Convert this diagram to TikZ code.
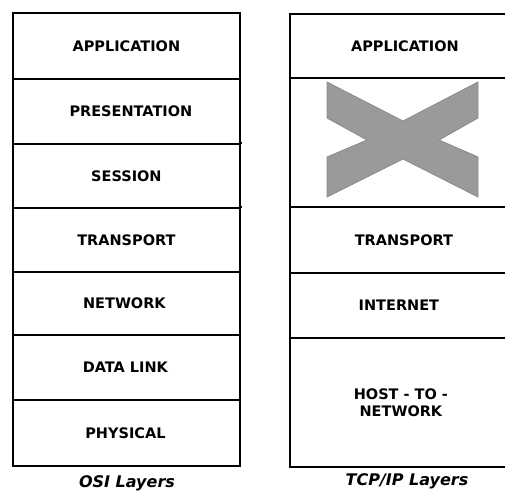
\documentclass[tikz,border=0pt]{standalone}
\usepackage{fontspec}
\setmainfont{DejaVu Sans}
\definecolor{xgray}{HTML}{9A9A9A}
\definecolor{xedge}{HTML}{8A8A8A}
\tikzset{
  x=1pt, y=-1pt,
  cell/.style={draw=black, line width=1.8pt, anchor=north west, inner sep=0pt,
    font=\fontsize{14.5}{17}\selectfont\bfseries, align=center},
  caption/.style={font=\fontsize{16}{19}\selectfont\bfseries\itshape, inner sep=0pt}
}
\begin{document}
\begin{tikzpicture}
\clip (0,0) rectangle (505,491);
\fill[white] (0,0) rectangle (505,491);
% OSI column
\node[cell, minimum width=227pt, minimum height=66pt] (app) at (12,12) {APPLICATION};
\node[cell, minimum width=227pt, minimum height=65pt] (pres) at (12,78) {\hspace*{9pt}PRESENTATION};
\node[cell, minimum width=227pt, minimum height=64pt] (sess) at (12,143) {SESSION};
\node[cell, minimum width=227pt, minimum height=64pt] (trans) at (12,207) {TRANSPORT};
\node[cell, minimum width=227pt, minimum height=63pt] (net) at (12,271) {\hspace*{-4pt}NETWORK};
\node[cell, minimum width=227pt, minimum height=65pt] (dl) at (12,334) {\hspace*{-2pt}DATA LINK};
\node[cell, minimum width=227pt, minimum height=66pt] (phys) at (12,399) {\hspace*{-2pt}PHYSICAL};
\coordinate (e1) at (242,143);
\coordinate (e2) at (242,207);
\draw[line width=1.8pt] (sess.north east) -- (e1);
\draw[line width=1.8pt] (trans.north east) -- (e2);
\node[caption] (osi) at (127,483) {OSI Layers};
% TCP/IP column
\node[cell, minimum width=230pt, minimum height=64pt] (tapp) at (289,13) {APPLICATION};
\node[cell, minimum width=230pt, minimum height=129pt] (tx) at (289,77) {};
\node[cell, minimum width=230pt, minimum height=66pt] (ttrans) at (289,206) {\hspace*{-2pt}TRANSPORT};
\node[cell, minimum width=230pt, minimum height=65pt] (tnet) at (289,272) {\hspace*{-12pt}INTERNET};
\node[cell, minimum width=230pt, minimum height=129pt] (thost) at (289,337) {\hspace*{-8pt}HOST - TO -\\\hspace*{-8pt}NETWORK};
\node[caption] (tcp) at (407,481) {TCP/IP Layers};
% cross
\filldraw[fill=xgray, draw=xedge, line width=0.8pt]
  (327,82) -- (403,121) -- (478,82) -- (478,118) -- (439,140) -- (478,157)
  -- (478,197) -- (403,159) -- (327,197) -- (327,157) -- (367,140) -- (327,118) -- cycle;
\end{tikzpicture}
\end{document}
